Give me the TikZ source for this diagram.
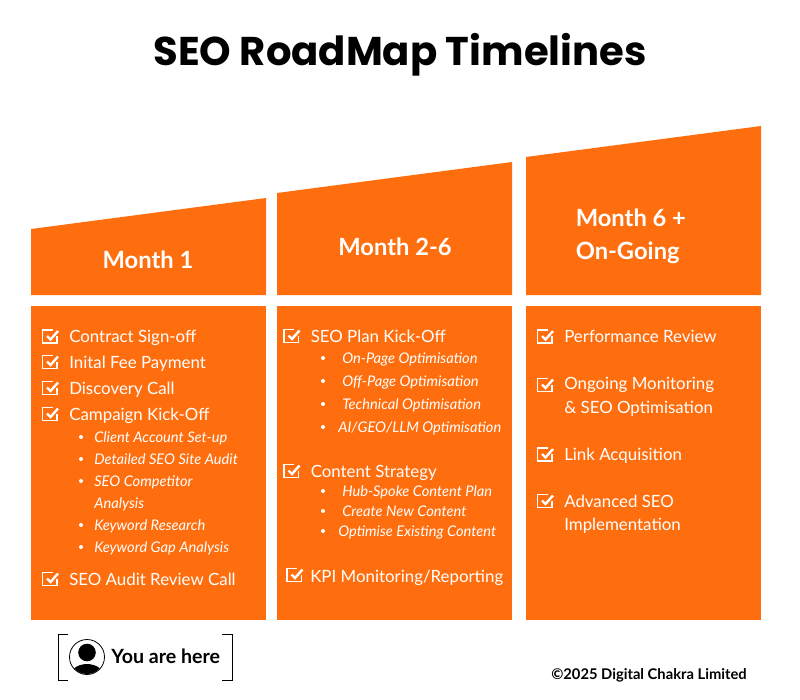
\documentclass[tikz,border=0pt]{standalone}
\usepackage{fontspec}
\setmainfont{Lato}
\newfontfamily\poppins{Poppins}
\definecolor{seo}{HTML}{FF6E0E}
\newcommand{\chk}[2]{%
 \draw[white,line width=1.25pt,line join=miter] (#1+10,#2-6) -- (#1,#2-6) -- (#1,#2+7) -- (#1+14.5,#2+7) -- (#1+14.5,#2);
 \draw[white,line width=1.8pt] (#1+4.5,#2) -- (#1+8,#2+3.5) -- (#1+15.5,#2-5);}
\newcommand{\mainit}[4]{\chk{#2}{#3}\node[mainlabel] (#1) at (#2+26.5,#3+3) {#4};}
\newcommand{\subit}[5]{\fill[white] (#2,#3) circle (2);\node[sublabel] (#1) at (#4,#3+2) {#5};}
\tikzset{
 x=0.75pt,y=-0.75pt,
 mainlabel/.style={anchor=west,inner sep=0pt,text=white,text height=8.5pt,text depth=3pt,font=\fontsize{12.65pt}{15pt}\selectfont},
 sublabel/.style={anchor=west,inner sep=0pt,text=white,text height=7.5pt,text depth=2.5pt,font=\fontsize{11pt}{12pt}\selectfont\itshape},
 headlabel/.style={inner sep=0pt,text=white,font=\fontsize{17.8pt}{25pt}\selectfont\bfseries,align=left},
 panel/.style={fill=seo,draw=none},
}
\begin{document}
\begin{tikzpicture}
\useasboundingbox (0,0) rectangle (800,700);
\fill[white] (0,0) rectangle (800,700);
\node[inner sep=0pt,font=\fontsize{30.1pt}{36pt}\selectfont\poppins\bfseries] (title) at (400,55) {SEO RoadMap Timelines};
% headers
\fill[panel] (31,229) -- (266,198) -- (266,295) -- (31,295) -- cycle;
\fill[panel] (277,193) -- (512,162) -- (512,295) -- (277,295) -- cycle;
\fill[panel] (526,157) -- (761,126) -- (761,295) -- (526,295) -- cycle;
\node[headlabel] (m1) at (148,260) {Month 1};
\node[headlabel] (m2) at (395,247) {Month 2-6};
\node[headlabel,anchor=west] (m3) at (575.5,236) {Month 6 +\\On-Going};
% bodies
\fill[panel] (31,306) rectangle (266,620);
\fill[panel] (277,306) rectangle (512,620);
\fill[panel] (526,306) rectangle (761,620);
% column 1
\mainit{a1}{42.5}{336}{Contract Sign-off}
\mainit{a2}{42.5}{361.5}{Inital Fee Payment}
\mainit{a3}{42.5}{387.5}{Discovery Call}
\mainit{a4}{42.5}{413.5}{Campaign Kick-Off}
\subit{a5}{81}{437}{94}{Client Account Set-up}
\subit{a6}{81}{459}{94}{Detailed SEO Site Audit}
\subit{a7}{81}{481}{94}{SEO Competitor}
\node[sublabel] (a7b) at (94,505) {Analysis};
\subit{a8}{81}{525}{94}{Keyword Research}
\subit{a9}{81}{547}{94}{Keyword Gap Analysis}
\mainit{a10}{42.5}{578.5}{SEO Audit Review Call}
% column 2
\mainit{b1}{284}{335.5}{SEO Plan Kick-Off}
\subit{b2}{323}{358}{342}{On-Page Optimisation}
\subit{b3}{323}{381}{342}{Off-Page Optimisation}
\subit{b4}{323}{404}{342}{Technical Optimisation}
\subit{b5}{323}{427}{338}{AI/GEO/LLM Optimisation}
\mainit{b6}{284}{470.5}{Content Strategy}
\subit{b7}{323}{491}{342}{Hub-Spoke Content Plan}
\subit{b8}{323}{511}{342}{Create New Content}
\subit{b9}{323}{531}{338}{Optimise Existing Content}
\chk{287}{574.5}\node[mainlabel] (b10) at (310,579) {KPI Monitoring/Reporting};
% column 3
\mainit{c1}{537.5}{336}{Performance Review}
\chk{537.5}{384.5}\node[mainlabel] (c2) at (564,385.5) {Ongoing Monitoring};
\node[mainlabel] (c2b) at (564,409.5) {\& SEO Optimisation};
\mainit{c3}{537.5}{454}{Link Acquisition}
\mainit{c4}{537.5}{500.5}{Advanced SEO}
\node[mainlabel] (c4b) at (564,526.5) {Implementation};
% you are here
\draw[black,line width=0.7pt] (68,634) -- (58,634) -- (58,680) -- (68,680);
\draw[black,line width=0.7pt] (222,634) -- (232.5,634) -- (232.5,680) -- (222,680);
\draw[black,line width=0.6pt] (87,657) circle (17.5);
\begin{scope}
\clip (87,657) circle (17);
\fill[black] (87,652.5) circle (8.8);
\fill[black] (87,680) ellipse (19 and 16);
\end{scope}
\node[anchor=west,inner sep=0pt,font=\fontsize{14.7pt}{16pt}\selectfont\bfseries] (here) at (111,656.5) {You are here};
\node[anchor=west,inner sep=0pt,font=\fontsize{11.05pt}{12pt}\selectfont\bfseries] (copy) at (551,675.5) {©2025 Digital Chakra Limited};
\end{tikzpicture}
\end{document}
